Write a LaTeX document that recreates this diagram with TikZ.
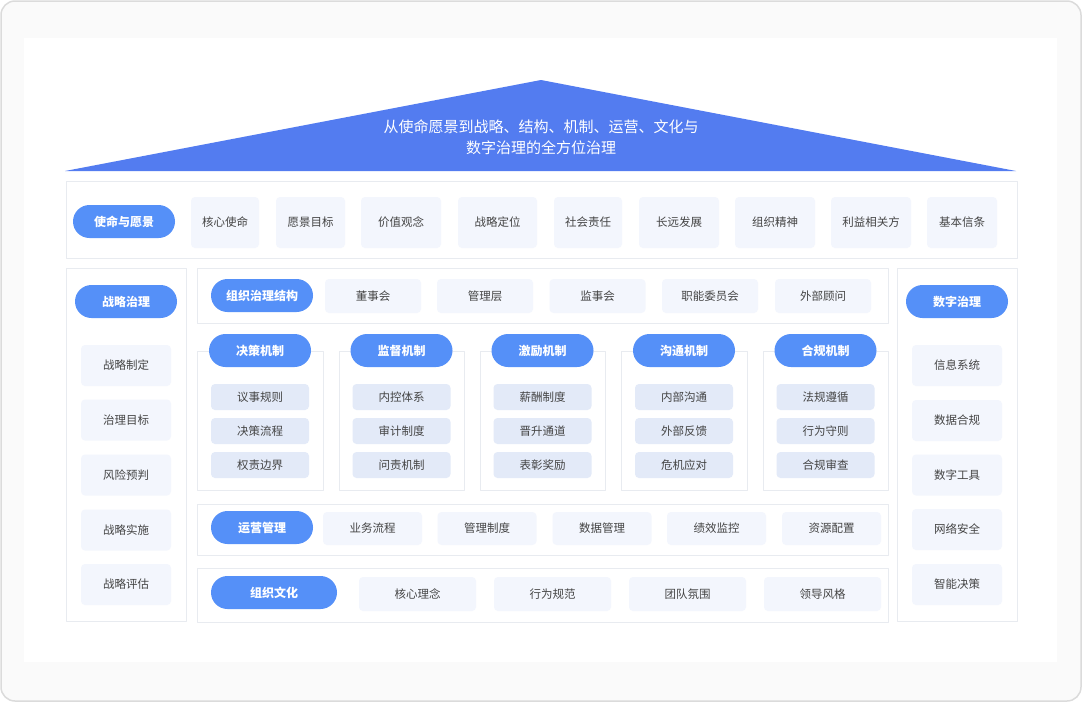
\documentclass[tikz,border=0pt]{standalone}
\usepackage{fontspec}
\setmainfont{Noto Sans CJK SC}
\definecolor{pillblue}{HTML}{5590F8}
\definecolor{roofblue}{HTML}{537CF0}
\definecolor{itemfill}{HTML}{F3F6FD}
\definecolor{subfill}{HTML}{E3EAF8}
\definecolor{panelline}{HTML}{E8EBF0}
\definecolor{textgray}{HTML}{444444}
\begin{document}
\begin{tikzpicture}[x=1pt, y=-1pt, line join=round,
		panel/.style={draw=panelline, line width=1pt, fill=white},
		pill/.style={fill=pillblue, text=white, font=\bfseries\fontsize{12}{14}\selectfont, minimum width=102, minimum height=33, rounded corners=16.5, inner sep=0},
		item/.style={fill=itemfill, text=textgray, font=\fontsize{11.5}{14}\selectfont, rounded corners=4, inner sep=0},
		subitem/.style={fill=subfill, text=textgray, font=\fontsize{11.5}{14}\selectfont, rounded corners=4, inner sep=0, minimum width=98, minimum height=26}]
				% Khung nền
				\useasboundingbox (0,0) rectangle (1082,702);
				\draw[draw=black!14, line width=1.5pt, fill=black!2, rounded corners=14] (1,1) rectangle (1081,701);
				\fill[white] (24,38) rectangle (1057,662);
				
				% Mái nhà
				\coordinate (L) at (65,171);
				\coordinate (R) at (1016,171);
				\coordinate (T) at (541,80);
				\fill[roofblue] (L) -- (T) -- (R) -- cycle;
				\node[text=white, font=\fontsize{15}{21.5}\selectfont, align=center] (roof) at (541,137) {从使命愿景到战略、结构、机制、运营、文化与\\数字治理的全方位治理};
				
				% Hàng 1: sứ mệnh và tầm nhìn
				\draw[panel] (66,181) rectangle (1017,258);
				\node[pill] (vision) at (124,221.5) {使命与愿景};
				\node[item, minimum width=68, minimum height=51] (v1) at (225,222.5) {核心使命};
				\node[item, minimum width=69, minimum height=51] (v2) at (310.5,222.5) {愿景目标};
				\node[item, minimum width=80, minimum height=51] (v3) at (401,222.5) {价值观念};
				\node[item, minimum width=79, minimum height=51] (v4) at (497.5,222.5) {战略定位};
				\node[item, minimum width=68, minimum height=51] (v5) at (588,222.5) {社会责任};
				\node[item, minimum width=80, minimum height=51] (v6) at (679,222.5) {长远发展};
				\node[item, minimum width=80, minimum height=51] (v7) at (775,222.5) {组织精神};
				\node[item, minimum width=80, minimum height=51] (v8) at (871,222.5) {利益相关方};
				\node[item, minimum width=70, minimum height=51] (v9) at (962,222.5) {基本信条};
				
				% Cột trái: chiến lược
				\draw[panel] (66,268) rectangle (186,621);
				\node[pill] (strat) at (126,301.5) {战略治理};
				\node[item, minimum width=90, minimum height=41] (s1) at (126,365.5) {战略制定};
				\node[item, minimum width=90, minimum height=41] (s2) at (126,420) {治理目标};
				\node[item, minimum width=90, minimum height=41] (s3) at (126,475) {风险预判};
				\node[item, minimum width=90, minimum height=41] (s4) at (126,530) {战略实施};
				\node[item, minimum width=90, minimum height=41] (s5) at (126,584.5) {战略评估};
				
				% Cột phải: số hóa
				\draw[panel] (897,268) rectangle (1017,621);
				\node[pill] (digi) at (957,301.5) {数字治理};
				\node[item, minimum width=90, minimum height=41] (d1) at (957,365.5) {信息系统};
				\node[item, minimum width=90, minimum height=41] (d2) at (957,420.5) {数据合规};
				\node[item, minimum width=90, minimum height=41] (d3) at (957,475) {数字工具};
				\node[item, minimum width=90, minimum height=41] (d4) at (957,529.5) {网络安全};
				\node[item, minimum width=90, minimum height=41] (d5) at (957,584.5) {智能决策};
				
				% Cấu trúc quản trị
				\draw[panel] (197,268) rectangle (888,323);
				\node[pill] (struct) at (262,295.5) {组织治理结构};
				\node[item, minimum width=96, minimum height=34] (g1) at (373,296) {董事会};
				\node[item, minimum width=96, minimum height=34] (g2) at (485,296) {管理层};
				\node[item, minimum width=96, minimum height=34] (g3) at (597.5,296) {监事会};
				\node[item, minimum width=96, minimum height=34] (g4) at (710,296) {职能委员会};
				\node[item, minimum width=96, minimum height=34] (g5) at (823,296) {外部顾问};
				
				% Các cơ chế
				\draw[panel] (197,351) rectangle (323,490);
				\draw[panel] (339,351) rectangle (464,490);
				\draw[panel] (480,351) rectangle (605,490);
				\draw[panel] (621,351) rectangle (747,490);
				\draw[panel] (763,351) rectangle (888,490);
				\node[pill] (m1) at (260,350.5) {决策机制};
				\node[pill] (m2) at (401.5,350.5) {监督机制};
				\node[pill] (m3) at (542.5,350.5) {激励机制};
				\node[pill] (m4) at (684,350.5) {沟通机制};
				\node[pill] (m5) at (825.5,350.5) {合规机制};
				\node[subitem] (m1a) at (260,397) {议事规则};
				\node[subitem] (m1b) at (260,431) {决策流程};
				\node[subitem] (m1c) at (260,465) {权责边界};
				\node[subitem] (m2a) at (401.5,397) {内控体系};
				\node[subitem] (m2b) at (401.5,431) {审计制度};
				\node[subitem] (m2c) at (401.5,465) {问责机制};
				\node[subitem] (m3a) at (542.5,397) {薪酬制度};
				\node[subitem] (m3b) at (542.5,431) {晋升通道};
				\node[subitem] (m3c) at (542.5,465) {表彰奖励};
				\node[subitem] (m4a) at (684,397) {内部沟通};
				\node[subitem] (m4b) at (684,431) {外部反馈};
				\node[subitem] (m4c) at (684,465) {危机应对};
				\node[subitem] (m5a) at (825.5,397) {法规遵循};
				\node[subitem] (m5b) at (825.5,431) {行为守则};
				\node[subitem] (m5c) at (825.5,465) {合规审查};
				
				% Vận hành
				\draw[panel] (197,504) rectangle (888,555);
				\node[pill] (ops) at (262,527.5) {运营管理};
				\node[item, minimum width=99, minimum height=33] (o1) at (372.5,528.5) {业务流程};
				\node[item, minimum width=99, minimum height=33] (o2) at (487,528.5) {管理制度};
				\node[item, minimum width=99, minimum height=33] (o3) at (602,528.5) {数据管理};
				\node[item, minimum width=99, minimum height=33] (o4) at (716.5,528.5) {绩效监控};
				\node[item, minimum width=99, minimum height=33] (o5) at (831.5,528.5) {资源配置};
				
				% Văn hóa
				\draw[panel] (197,568) rectangle (888,622);
				\node[pill, minimum width=126] (cult) at (274,592.5) {组织文化};
				\node[item, minimum width=117, minimum height=34] (c1) at (417.5,594) {核心理念};
				\node[item, minimum width=117, minimum height=34] (c2) at (552.5,594) {行为规范};
				\node[item, minimum width=117, minimum height=34] (c3) at (687.5,594) {团队氛围};
				\node[item, minimum width=117, minimum height=34] (c4) at (822.5,594) {领导风格};
		\end{tikzpicture}
\end{document}
